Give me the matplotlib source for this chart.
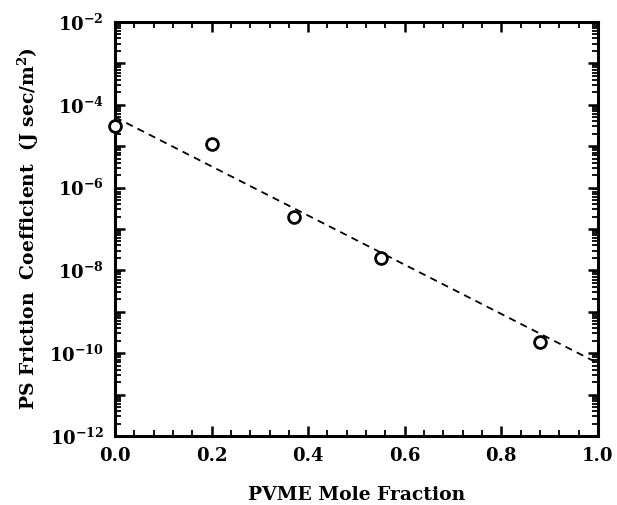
import numpy as np
import matplotlib
matplotlib.use("Agg")
import matplotlib.pyplot as plt
from matplotlib import ticker

plt.rcParams['font.family'] = ['DejaVu Serif']
plt.rcParams['font.weight'] = 'bold'
plt.rcParams['mathtext.fontset'] = 'custom'
plt.rcParams['mathtext.rm'] = 'DejaVu Serif:bold'
plt.rcParams['mathtext.it'] = 'DejaVu Serif:bold'
plt.rcParams['mathtext.bf'] = 'DejaVu Serif:bold'

# measured friction coefficients vs PVME content
pvme_fraction = [0.0, 0.20, 0.37, 0.55, 0.88]
friction = [3.0e-5, 1.1e-5, 2.0e-7, 2.0e-8, 1.9e-10]

# exponential fit: log10(zeta) = a + b * x
fit_a = -4.3
fit_b = -5.94
fit_x = [0.0, 1.0]


def main():
    fig = plt.figure(figsize=(6.17, 5.05), dpi=100)
    ax = fig.add_axes([0.1864, 0.1366, 0.7826, 0.82])

    xs = np.array(fit_x)
    ax.plot(xs, 10 ** (fit_a + fit_b * xs), color='black', ls=(0, (4, 3)), lw=1.3)
    ax.plot(pvme_fraction, friction, 'o', mfc='white', mec='black', ms=8.5, mew=2,
            clip_on=False, zorder=3)

    ax.set_yscale('log')
    ax.set_xlim(0, 1)
    ax.set_ylim(1e-12, 1e-2)

    ax.xaxis.set_major_locator(ticker.MultipleLocator(0.2))
    ax.xaxis.set_minor_locator(ticker.MultipleLocator(0.04))
    ax.xaxis.set_major_formatter(ticker.FormatStrFormatter('%.1f'))

    ax.yaxis.set_major_locator(ticker.LogLocator(base=10, numticks=20))
    ax.yaxis.set_minor_locator(ticker.LogLocator(base=10, subs=np.arange(2, 10), numticks=20))

    def ylab(v, pos):
        e = int(round(np.log10(v)))
        if e % 2:
            return ''
        return r'$\mathregular{10^{%d}}$' % e
    ax.yaxis.set_major_formatter(ticker.FuncFormatter(ylab))
    ax.yaxis.set_minor_formatter(ticker.NullFormatter())

    ax.tick_params(which='both', direction='in', top=True, right=True, color='black')
    ax.tick_params(which='major', length=7, width=1.8, labelsize=13, pad=8)
    ax.tick_params(which='minor', length=4, width=1.3)

    for s in ax.spines.values():
        s.set_linewidth(2.2)

    ax.set_xlabel('PVME Mole Fraction', fontsize=13.5, fontweight='bold', labelpad=15)
    ax.set_ylabel(r'PS Friction  Coefficient  (J sec/m$\mathregular{^2}$)', fontsize=13.5,
                  fontweight='bold', labelpad=6)

    fig.savefig('out.png', dpi=100)
    plt.close(fig)


if __name__ == '__main__':
    main()
